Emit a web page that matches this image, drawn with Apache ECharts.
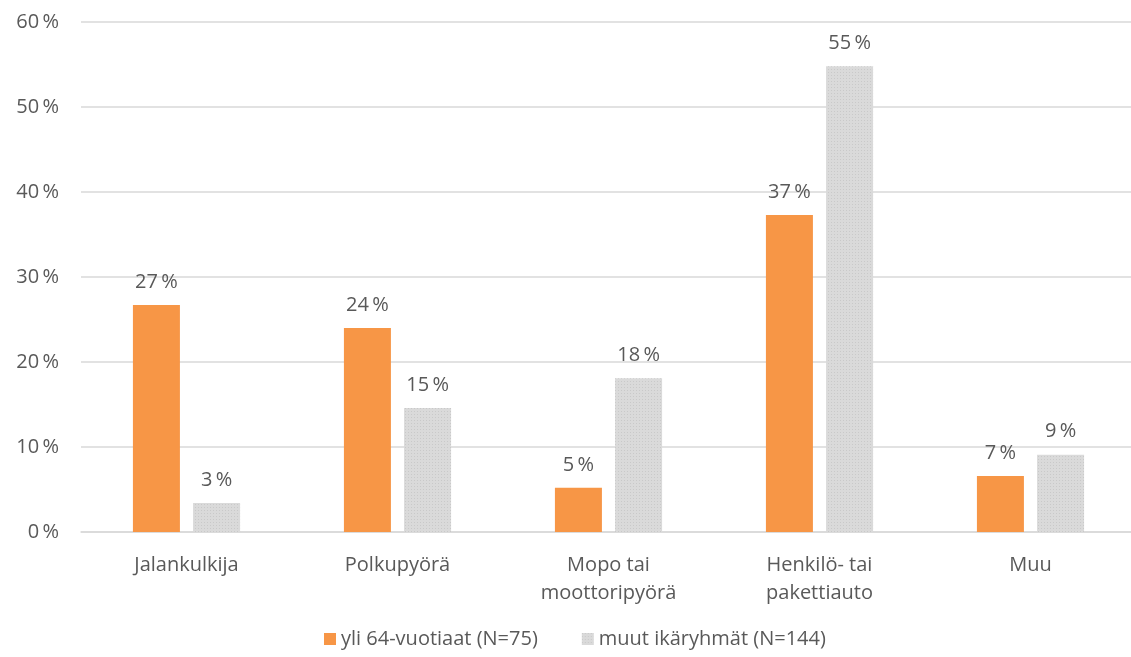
<!DOCTYPE html>
<html>
<head>
<meta charset="utf-8">
<script src="https://cdn.jsdelivr.net/npm/echarts@6/dist/echarts.min.js"></script>
<style>
  html, body { margin: 0; padding: 0; background: #fff; }
  #chart { width: 1131px; height: 657px; }
</style>
</head>
<body>
<div id="chart"></div>
<script>
// kulkumuoto
const categories = ['Jalankulkija', 'Polkupyörä', 'Mopo tai\nmoottoripyörä', 'Henkilö- tai\npakettiauto', 'Muu'];
const seniors = [26.7, 24.0, 5.2, 37.3, 6.6];
const others = [3.4, 14.6, 18.1, 54.8, 9.1];
const seriesNames = ['yli 64-vuotiaat (N=75)', 'muut ikäryhmät (N=144)'];

const textColor = '#595959';
const font = 'Open Sans';
const pct = '\u2009%';

const labelOpt = {
    show: true, position: 'top', distance: 13,
    color: textColor, fontFamily: font, fontSize: 20,
    formatter: p => Math.round(p.value) + pct
};

const chart = echarts.init(document.getElementById('chart'));
chart.setOption({
    animation: false,
    textStyle: { fontFamily: font },
    grid: { left: 81, top: 22, width: 1055, height: 510, containLabel: false, outerBoundsMode: 'none' },
    legend: {
        bottom: 3, left: 319, itemGap: 44,
        itemWidth: 12, itemHeight: 12, icon: 'rect', itemTextGap: 6,
        textStyle: { color: textColor, fontSize: 20, fontFamily: font },
        data: seriesNames
    },
    xAxis: {
        type: 'category', data: categories,
        axisLine: { lineStyle: { color: '#d9d9d9', width: 1.5 } },
        axisTick: { show: false },
        axisLabel: { color: textColor, fontSize: 20, fontFamily: font, margin: 19, lineHeight: 28, interval: 0 }
    },
    yAxis: {
        type: 'value', min: 0, max: 60, interval: 10,
        axisLine: { show: false }, axisTick: { show: false },
        splitLine: { lineStyle: { color: '#d9d9d9', width: 1.5 } },
        axisLabel: { color: textColor, fontSize: 20, fontFamily: font, margin: 22, formatter: v => v + pct }
    },
    series: [
        { name: seriesNames[0], type: 'bar', data: seniors, barWidth: 47, barGap: '28%',
          itemStyle: { color: '#f79646' }, label: labelOpt },
        { name: seriesNames[1], type: 'bar', data: others, barWidth: 47,
          itemStyle: { color: '#dadada',
              decal: { symbol: 'rect', symbolSize: 1, dashArrayX: [1, 2], dashArrayY: [1, 2], color: 'rgba(190,190,190,0.6)' } },
          label: labelOpt }
    ]
});
</script>
</body>
</html>
